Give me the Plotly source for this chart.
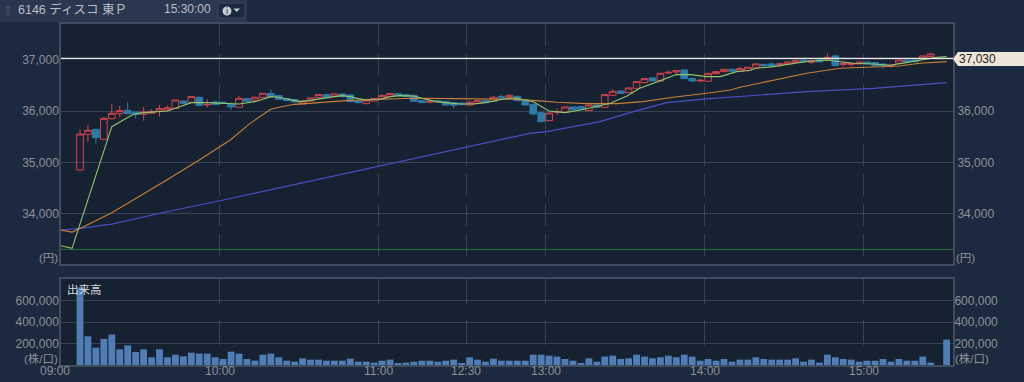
import plotly.graph_objects as go

opens = [34855,35550,35648,35453,35856,35953,36018,35986,35940,35960,35999,36025,36057,36200,36175,36272,36125,36181,36175,36136,
36077,36246,36214,36265,36350,36305,36246,36227,36142,36200,36265,36324,36285,36337,36317,36207,36148,36200,36240,36290,
36343,36324,36311,36207,36175,36207,36194,36168,36162,36122,36155,36207,36194,36285,36272,36291,36220,36135,35973,35817,
35980,35980,36084,36090,36012,36122,36077,36311,36395,36363,36447,36558,36649,36590,36746,36766,36805,36642,36590,36584,
36733,36772,36818,36779,36792,36844,36915,36922,36909,36922,36948,37000,36955,37013,37000,37078,36909,36909,36922,36961,
36948,36922,36883,36935,37000,37000,37013,37065,None,None]
closes = [35557,35630,35485,35862,35960,36012,35953,35934,35986,35999,36051,36070,36220,36155,36285,36110,36130,36130,36150,36085,
36253,36194,36272,36350,36285,36233,36207,36181,36200,36260,36324,36272,36337,36285,36187,36168,36220,36252,36305,36345,
36305,36285,36194,36168,36200,36181,36122,36116,36130,36175,36207,36168,36272,36259,36311,36207,36122,35947,35797,35966,
35993,36084,36025,36038,36122,36077,36324,36389,36350,36454,36577,36636,36590,36740,36759,36792,36636,36590,36603,36740,
36772,36818,36779,36831,36857,36922,36883,36883,36921,36961,36994,36961,36987,36961,37052,36889,36935,36929,36961,36922,
36889,36883,36896,37000,36961,36967,37078,37117,None,None]
highs = [35648,35732,35650,35882,36142,36103,36175,35986,36083,36038,36122,36116,36225,36215,36300,36285,36233,36207,36190,36168,
36298,36250,36285,36358,36428,36315,36250,36230,36205,36265,36330,36330,36345,36350,36345,36215,36225,36258,36335,36355,
36350,36330,36318,36212,36220,36212,36200,36172,36168,36207,36212,36214,36300,36324,36330,36300,36228,36140,35980,35975,
36057,36090,36090,36095,36130,36128,36332,36428,36400,36462,36585,36645,36655,36748,36792,36792,36812,36648,36636,36745,
36778,36824,36824,36870,36862,36930,36920,36961,36948,36968,37000,37006,36995,37020,37130,37104,36974,36935,36968,36968,
36955,36928,36902,37006,37006,37006,37085,37124,None,None]
lows = [34855,35408,35375,35440,35843,35882,35953,35856,35817,35960,35895,35980,36050,36140,36170,36110,36077,36120,36145,36025,
36077,36185,36205,36258,36285,36225,36200,36170,36135,36195,36260,36265,36280,36280,36168,36155,36145,36195,36220,36285,
36300,36280,36190,36160,36155,36175,36118,36051,36125,36118,36150,36162,36188,36255,36268,36200,36115,35920,35790,35810,
35927,35975,36020,36030,36005,36072,36072,36305,36345,36358,36440,36552,36585,36585,36720,36701,36630,36571,36585,36580,
36728,36768,36772,36766,36772,36840,36878,36878,36857,36918,36942,36955,36922,36955,36995,36885,36870,36870,36918,36916,
36884,36818,36844,36930,36955,36960,37008,37060,None,None]
volumes = [722000,267000,162000,243000,283000,146000,183000,121000,146000,72000,146000,72000,96000,81000,115000,106000,106000,72000,56000,124000,
106000,56000,40000,96000,106000,72000,40000,31000,62000,50000,50000,40000,40000,40000,59000,31000,31000,22000,40000,50000,
16000,22000,31000,40000,40000,31000,40000,50000,16000,72000,50000,31000,59000,40000,40000,40000,40000,96000,96000,87000,
78000,56000,40000,12000,62000,31000,78000,87000,56000,62000,96000,78000,62000,72000,87000,72000,96000,78000,40000,56000,
40000,56000,31000,50000,50000,72000,56000,50000,50000,50000,62000,31000,50000,22000,96000,72000,56000,50000,31000,40000,
40000,56000,31000,56000,40000,40000,78000,22000,0,236000]
bar_index = list(range(len(volumes)))

ma_short_x = [-2.4,-1,4,6.7,8,11,12,14,16,18,20,22,24,25,26.4,27.7,28.7,30,31,32,33,34,35,36,37.7,39,40.2,42,43,44.8,46,47.8,49.5,51,52.8,54,55,57,59,61,63,65,66.7,68.8,70.4,73,75,76.8,78.8,80.5,82.6,84.3,85,87.2,89.7,91.4,93.9,95.6,97.3,99.8,101.9,103.9,106,107.8,109]
ma_short_y = [33380,33328,35700,35940,35973,36005,36057,36168,36168,36155,36142,36187,36285,36272,36233,36187,36207,36240,36272,36285,36305,36285,36246,36220,36233,36285,36305,36298,36252,36187,36168,36142,36142,36168,36225,36252,36252,36187,36005,35973,36025,36090,36155,36298,36447,36597,36714,36714,36675,36675,36772,36800,36837,36870,36935,36968,37000,36968,36935,36922,36896,36948,37000,37052,37065]
ma_mid_x = [-2.4,-1,0,4,10.9,15,18.9,21.4,24,25,27,29,33.5,37.7,42,46.9,52,54.5,57.4,60,63.7,67.5,70.8,74.6,78.8,81.8,83,87.2,91.4,95.6,99.8,103,105.6,109]
ma_mid_y = [33685,33646,33718,34023,34660,35050,35440,35765,36038,36077,36135,36155,36207,36233,36252,36246,36233,36233,36207,36175,36148,36148,36187,36272,36350,36415,36467,36610,36740,36837,36870,36883,36935,36967]
ma_long_x = [-2.4,0,4,10.9,17.6,27.7,37.6,52.8,56.6,58.7,65.4,69.6,73.8,78.8,84.3,91.4,99.8,109]
ma_long_y = [33685,33718,33802,34042,34257,34595,34928,35440,35570,35602,35798,35992,36168,36240,36305,36383,36447,36558]

last_price = 37030
prev_close = 33308
price_ticks = [37000,36000,35000,34000]
volume_ticks = [200000,400000,600000]
time_positions = [17.6,37.6,48.6,58.6,78.6,98.6]
time_labels = ["10:00","11:00","12:30","13:00","14:00","15:00"]
x_range = [-2.39,109.8]

PAGE="#1b2a3f"; PLOT="#162131"; GRID="#374352"; FRAME="#414c5e"; TEXT="#8d9196"
FONT="Liberation Sans, Noto Sans CJK JP, sans-serif"
W,H=1024,382
L,R,T,B=61,953,24,365
def px(x): return (x-L)/(R-L)
def py(y): return (B-y)/(B-T)

fig=go.Figure()
common=dict(xaxis="x",hoverinfo="skip",showlegend=False)
fig.add_trace(go.Candlestick(x=bar_index,open=opens,high=highs,low=lows,close=closes,xaxis="x",yaxis="y",
    increasing=dict(line=dict(color="#d5444c",width=1),fillcolor="rgba(0,0,0,0)"),
    decreasing=dict(line=dict(color="#2d7ba6",width=1),fillcolor="#2d7ba6"),
    whiskerwidth=0,showlegend=False,hoverinfo="skip"))
fig.add_trace(go.Scatter(x=x_range,y=[prev_close,prev_close],mode="lines",line=dict(color="#24703a",width=1),yaxis="y",**common))
fig.add_trace(go.Scatter(x=ma_long_x,y=ma_long_y,mode="lines",line=dict(color="#4a4fc4",width=1.2),yaxis="y",**common))
fig.add_trace(go.Scatter(x=ma_mid_x,y=ma_mid_y,mode="lines",line=dict(color="#c97f3a",width=1.1),yaxis="y",**common))
fig.add_trace(go.Scatter(x=ma_short_x,y=ma_short_y,mode="lines",line=dict(color="#8fc66a",width=1.1),yaxis="y",**common))
fig.add_trace(go.Scatter(x=x_range,y=[last_price,last_price],mode="lines",line=dict(color="#e6e6e2",width=1.3),yaxis="y3",**common))
fig.add_trace(go.Bar(x=bar_index,y=volumes,marker=dict(color="#4f7db4",line=dict(width=0)),xaxis="x2",yaxis="y2",showlegend=False,hoverinfo="skip"))
fig.add_trace(go.Scatter(x=bar_index,y=volumes,mode="lines",opacity=0,xaxis="x2",yaxis="y4",showlegend=False,hoverinfo="skip"))

shapes=[
 dict(type="rect",xref="paper",yref="paper",x0=0,x1=1,y0=py(264),y1=py(T),fillcolor=PLOT,line=dict(width=0),layer="below"),
 dict(type="rect",xref="paper",yref="paper",x0=0,x1=1,y0=0,y1=py(279),fillcolor=PLOT,line=dict(width=0),layer="below"),
 dict(type="rect",xref="paper",yref="paper",x0=px(0),x1=px(247),y0=py(22),y1=py(0),fillcolor="#2a384f",line=dict(width=0)),
 dict(type="rect",xref="paper",yref="paper",x0=px(218),x1=px(245),y0=py(18),y1=py(3),fillcolor="#1c2940",line=dict(color="#39465a",width=1)),
 dict(type="circle",xref="paper",yref="paper",x0=px(222.5),x1=px(231.5),y0=py(15.5),y1=py(6.5),fillcolor="#c9ccd0",line=dict(width=0)),
 dict(type="path",xref="paper",yref="paper",path=f"M {px(233.5)} {py(8.5)} L {px(240)} {py(8.5)} L {px(236.7)} {py(12)} Z",fillcolor="#c9ccd0",line=dict(width=0)),
 dict(type="line",xref="paper",yref="paper",x0=px(8),x1=px(8),y0=py(16),y1=py(6),line=dict(color="#4a5568",width=3,dash="1px,1px")),
 dict(type="path",xref="paper",yref="paper",path=f"M {px(953)} {py(59)} L {px(958)} {py(52)} L {px(1024)} {py(52)} L {px(1024)} {py(66)} L {px(958)} {py(66)} Z",fillcolor="#ece5d8",line=dict(width=0)),
]
def note(x,y,text,size=12,color=TEXT,anchor="left"):
    return dict(xref="paper",yref="paper",x=px(x),y=py(y),text=text,showarrow=False,xanchor=anchor,yanchor="middle",
                font=dict(size=size,color=color,family=FONT),borderpad=0)
annotations=[
 note(17,9,"6146 ディスコ 東Ｐ",12.5,"#b9bdc4"),
 note(163,9,"15:30:00",12,"#b9bdc4"),
 note(227,11,"i",9,"#1c2940","center"),
 note(958,59,"37,030",12,"#1f1f1f"),
 note(59,257.5,"(円)",11.5,TEXT,"right"),
 note(955,257.5,"(円)",11.5,TEXT),
 note(59,358,"(株/口)",11.5,TEXT,"right"),
 note(954,358,"(株/口)",11.5,TEXT),
 note(66,289.5,"出来高",11.5,"#d8dadc"),
 note(55,371,"09:00",12,TEXT,"center"),
]
for pos,label in zip(time_positions,time_labels):
    annotations.append(dict(xref="x2",yref="paper",x=pos,y=py(371),text=label,showarrow=False,xanchor="center",yanchor="middle",
                            font=dict(size=12,color=TEXT,family=FONT),borderpad=0))
axfont=dict(size=12,color=TEXT,family=FONT)
hide=dict(ticks="outside",ticklen=1,tickcolor="rgba(0,0,0,0)",automargin=False,tickmode="array",tickformat=",d",tickfont=axfont)
fig.update_layout(
 width=W,height=H,margin=dict(l=L,r=W-R,t=T,b=H-B,pad=0,autoexpand=False),paper_bgcolor=PAGE,plot_bgcolor=PAGE,
 font=dict(family=FONT),bargap=0.14,boxgap=0.16,boxgroupgap=0,showlegend=False,shapes=shapes,annotations=annotations,
 xaxis=dict(domain=[0,1],range=x_range,anchor="y",automargin=False,showticklabels=False,tickmode="array",tickvals=time_positions,
            showgrid=True,gridcolor=GRID,griddash="22px,8px",gridwidth=1,zeroline=False,showline=True,mirror=True,linecolor=FRAME,linewidth=1.5,ticks="",rangeslider=dict(visible=False)),
 yaxis=dict(domain=[py(264),1],range=[33024,37700],anchor="x",tickvals=price_ticks,ticklabelstandoff=-3,
            showgrid=True,gridcolor=GRID,gridwidth=1,zeroline=False,showline=True,mirror=True,linecolor=FRAME,linewidth=1.5,**hide),
 yaxis3=dict(domain=[py(264),1],range=[33024,37700],overlaying="y",side="right",anchor="x",tickvals=price_ticks[1:],ticklabelstandoff=0,
            showgrid=False,zeroline=False,showline=False,**hide),
 xaxis2=dict(domain=[0,1],range=x_range,anchor="y2",automargin=False,showticklabels=False,tickmode="array",tickvals=time_positions,
            showgrid=True,gridcolor=GRID,griddash="25px,16px",gridwidth=1,zeroline=False,showline=True,mirror=True,linecolor=FRAME,linewidth=1.5,ticks=""),
 yaxis2=dict(domain=[0,py(279)],range=[0,800000],anchor="x2",tickvals=volume_ticks,ticklabelstandoff=-3,
            showgrid=True,gridcolor=GRID,gridwidth=1,zeroline=False,showline=True,mirror=True,linecolor=FRAME,linewidth=1.5,**hide),
 yaxis4=dict(domain=[0,py(279)],range=[0,800000],overlaying="y2",side="right",anchor="x2",tickvals=volume_ticks,ticklabelstandoff=-3,
            showgrid=False,zeroline=False,showline=False,**hide),
)
fig.write_html("out.html",config=dict(displayModeBar=False),
    post_script="document.body.style.margin='0';document.body.style.overflow='hidden';document.body.style.background='#1b2a3f';")
